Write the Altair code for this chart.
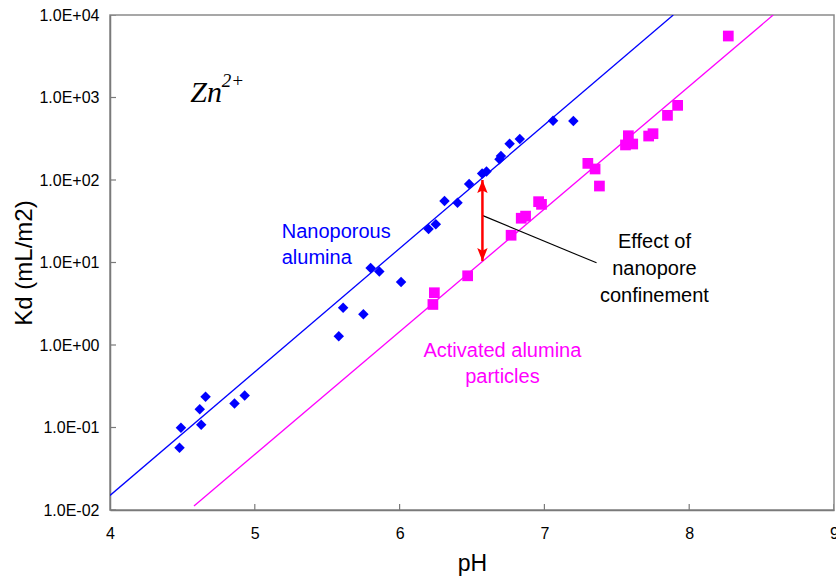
import altair as alt
import pandas as pd

# ---- data ----
blue_ph = [4.48, 4.49, 4.62, 4.63, 4.66, 4.86, 4.93, 5.58, 5.61, 5.75, 5.80, 5.86, 6.01,
           6.20, 6.25, 6.31, 6.40, 6.48, 6.57, 6.60, 6.69, 6.70, 6.76, 6.83, 7.06, 7.20]
blue_kd = [0.057, 0.099, 0.166, 0.108, 0.236, 0.195, 0.245, 1.28, 2.83, 2.36, 8.6, 7.8, 5.8,
           25.5, 29.0, 55.6, 53.0, 89.5, 120, 127, 178, 195, 275, 314, 524, 519]

pink_ph = [6.23, 6.24, 6.47, 6.77, 6.84, 6.87, 6.96, 6.98, 7.30, 7.35, 7.38, 7.56, 7.58,
           7.61, 7.72, 7.75, 7.85, 7.92, 8.27]
pink_kd = [3.1, 4.3, 6.9, 21.4, 34.4, 36.5, 54.6, 50.7, 159, 136, 84.5, 266, 344,
           273, 341, 364, 608, 803, 5560]

blue_fit_ph = [4.0, 7.89]
blue_fit_kd = [0.015, 10000]
pink_fit_ph = [4.58, 8.58]
pink_fit_kd = [0.0112, 10000]

arrow_ph = [6.572]
arrow_top_kd = [100]
arrow_bottom_kd = [10.4]

leader_ph = [6.575, 7.36]
leader_kd = [37, 9.9]

x_tick_values = [4, 5, 6, 7, 8, 9]
y_tick_values = [0.01, 0.1, 1, 10, 100, 1000, 10000]

# ---- scales & axes ----
x_scale = alt.Scale(domain=[4, 9], nice=False, zero=False)
y_scale = alt.Scale(type="log", domain=[0.01, 10000], nice=False)

x_axis = alt.Axis(values=x_tick_values, format="d", tickSize=0, grid=False,
                  labelFont="Liberation Sans", labelFontSize=16, labelColor="black",
                  labelPadding=15, labelFlush=False,
                  title="pH", titleFont="Liberation Sans", titleFontSize=23,
                  titleFontWeight="normal", titleColor="black", titlePadding=11,
                  domainColor="#7a7a7a", domainWidth=1.5)
y_axis = alt.Axis(values=y_tick_values, tickSize=0, grid=False,
                  labelExpr="'1.0E' + (datum.value >= 1 ? '+' : '-') + '0' + abs(round(log(datum.value) / LN10))",
                  labelFont="Liberation Sans", labelFontSize=16, labelColor="black",
                  labelPadding=11, labelFlush=False,
                  title="Kd (mL/m2)", titleFont="Liberation Sans", titleFontSize=24,
                  titleFontWeight="normal", titleColor="black", titlePadding=2,
                  domainColor="#7a7a7a", domainWidth=1.5)


def X(field="pH"):
    return alt.X(f"{field}:Q", scale=x_scale, axis=x_axis)


def Y(field="Kd"):
    return alt.Y(f"{field}:Q", scale=y_scale, axis=y_axis)


blue_df = pd.DataFrame({"pH": blue_ph, "Kd": blue_kd})
pink_df = pd.DataFrame({"pH": pink_ph, "Kd": pink_kd})
blue_fit = pd.DataFrame({"pH": blue_fit_ph, "Kd": blue_fit_kd})
pink_fit = pd.DataFrame({"pH": pink_fit_ph, "Kd": pink_fit_kd})
arrow_df = pd.DataFrame({"pH": arrow_ph, "Kd": arrow_top_kd, "Kd2": arrow_bottom_kd})
top_head = pd.DataFrame({"pH": arrow_ph, "Kd": arrow_top_kd})
bot_head = pd.DataFrame({"pH": arrow_ph, "Kd": arrow_bottom_kd})
leader_df = pd.DataFrame({"pH": leader_ph, "Kd": leader_kd})
xt_df = pd.DataFrame({"pH": x_tick_values, "Kd": [0.01] * len(x_tick_values)})
yt_df = pd.DataFrame({"pH": [4] * len(y_tick_values), "Kd": y_tick_values})

# inward ticks (clipped to the plot area)
x_ticks = alt.Chart(xt_df).mark_tick(orient="vertical", size=12, thickness=1.2,
                                     color="#7a7a7a", clip=True, opacity=1).encode(x=X(), y=Y())
y_ticks = alt.Chart(yt_df).mark_tick(orient="horizontal", size=12, thickness=1.2,
                                     color="#7a7a7a", clip=True, opacity=1).encode(x=X(), y=Y())

blue_line = alt.Chart(blue_fit).mark_line(color="#0000FF", strokeWidth=1.3, clip=True).encode(x=X(), y=Y())
pink_line = alt.Chart(pink_fit).mark_line(color="#FF00FF", strokeWidth=1.3, clip=True).encode(x=X(), y=Y())

blue_pts = alt.Chart(blue_df).mark_point(shape="diamond", filled=True, size=110,
                                         color="#0000FF", opacity=1).encode(x=X(), y=Y())
pink_pts = alt.Chart(pink_df).mark_point(shape="square", filled=True, size=115,
                                         color="#FF00FF", opacity=1).encode(x=X(), y=Y())

arrow = alt.Chart(arrow_df).mark_rule(color="#FF0000", strokeWidth=2.5).encode(
    x=X(), y=Y(), y2=alt.Y2("Kd2:Q"))
head_up = alt.Chart(top_head).mark_point(shape="M0,0L0.8,2L0,1.6L-0.8,2Z", filled=True,
                                         size=169, color="#FF0000", opacity=1, strokeWidth=0).encode(x=X(), y=Y())
head_down = alt.Chart(bot_head).mark_point(shape="M0,0L0.8,-2L0,-1.6L-0.8,-2Z", filled=True,
                                           size=169, color="#FF0000", opacity=1, strokeWidth=0).encode(x=X(), y=Y())
leader = alt.Chart(leader_df).mark_line(color="black", strokeWidth=1.1).encode(x=X(), y=Y())

# annotations
ann_zn = pd.DataFrame({"pH": [4.555], "Kd": [881], "t": ["Zn"]})
ann_sup = pd.DataFrame({"pH": [4.772], "Kd": [1330], "t": ["2+"]})
ann_nano = pd.DataFrame({"pH": [5.186], "Kd": [19.6], "t": ["Nanoporous\nalumina"]})
ann_act = pd.DataFrame({"pH": [6.71], "Kd": [0.72], "t": ["Activated alumina\nparticles"]})
ann_eff = pd.DataFrame({"pH": [7.76], "Kd": [14.9], "t": ["Effect of\nnanopore\nconfinement"]})

zn = alt.Chart(ann_zn).mark_text(font="Liberation Serif", fontStyle="italic", fontSize=30,
                                 align="left", baseline="alphabetic", color="black").encode(x=X(), y=Y(), text="t:N")
sup = alt.Chart(ann_sup).mark_text(font="Liberation Serif", fontStyle="italic", fontSize=19,
                                   align="left", baseline="alphabetic", color="black").encode(x=X(), y=Y(), text="t:N")
nano = alt.Chart(ann_nano).mark_text(font="Liberation Sans", fontSize=20, align="left",
                                     baseline="alphabetic", lineBreak="\n", lineHeight=26,
                                     color="#0000FF").encode(x=X(), y=Y(), text="t:N")
act = alt.Chart(ann_act).mark_text(font="Liberation Sans", fontSize=20, align="center",
                                   baseline="alphabetic", lineBreak="\n", lineHeight=26.5,
                                   color="#FF00FF").encode(x=X(), y=Y(), text="t:N")
eff = alt.Chart(ann_eff).mark_text(font="Liberation Sans", fontSize=20, align="center",
                                   baseline="alphabetic", lineBreak="\n", lineHeight=26.7,
                                   color="black").encode(x=X(), y=Y(), text="t:N")

chart = alt.layer(
    x_ticks, y_ticks, blue_line, pink_line, leader, arrow, head_up, head_down,
    blue_pts, pink_pts, zn, sup, nano, act, eff
).properties(
    width=724, height=495,
    padding={"left": 110, "top": 15, "right": 2, "bottom": 73},
    autosize=alt.AutoSizeParams(type="none"),
    background="white",
).configure_view(stroke="#8a8a8a", strokeWidth=1.5)

chart.save("out.html", embed_options={"renderer": "svg", "actions": False})
